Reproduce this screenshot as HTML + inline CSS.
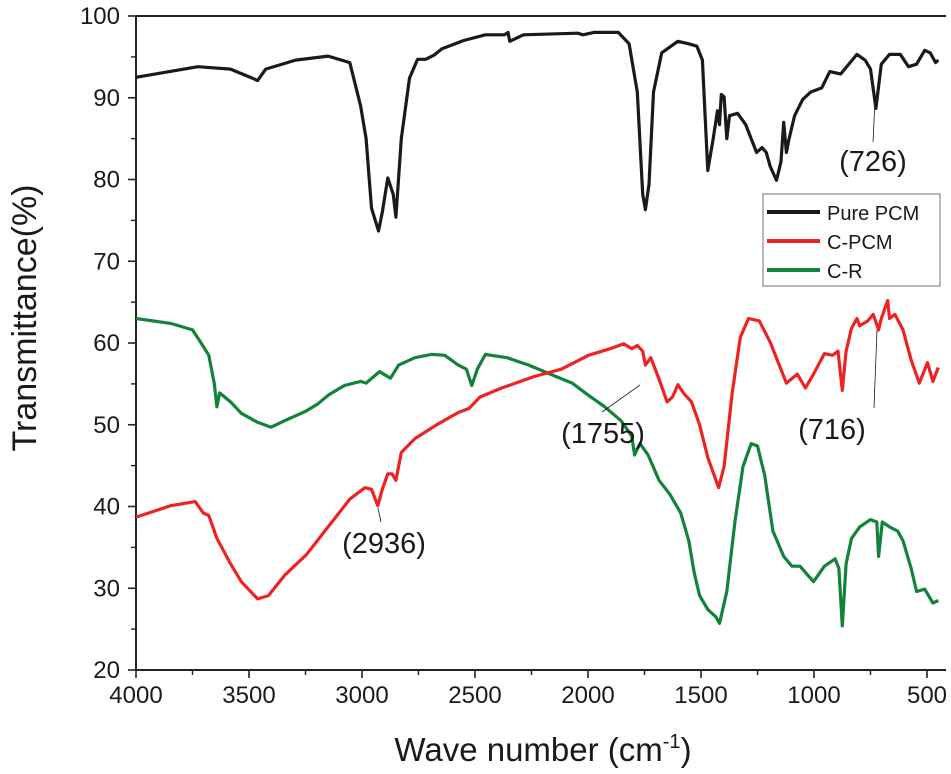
<!DOCTYPE html>
<html><head><meta charset="utf-8"><style>
body{margin:0;background:#fff;}
svg{display:block;font-family:"Liberation Sans",sans-serif;}
</style></head><body>
<svg id="chart" width="951" height="774">
<g id="axes"></g>
<g id="series"></g>
<g id="ann"></g>
<text x="0" y="0" transform="translate(36,318) rotate(-90)" text-anchor="middle" font-size="34" fill="#1a1a1a">Transmittance(%)</text>
<text x="543" y="761" text-anchor="middle" font-size="33" fill="#1a1a1a">Wave number (cm<tspan font-size="20" dy="-13">-1</tspan><tspan dy="13">)</tspan></text>
<g>
<rect x="763" y="194" width="177" height="92" fill="#fff" stroke="#888" stroke-width="1.2"/>
<g><line x1="767" y1="212" x2="820" y2="212" stroke="#1a1a1a" stroke-width="4"/><text x="827" y="220" font-size="20" fill="#1a1a1a">Pure PCM</text></g>
<g><line x1="767" y1="241" x2="820" y2="241" stroke="#ee2222" stroke-width="4"/><text x="827" y="249" font-size="20" fill="#1a1a1a">C-PCM</text></g>
<g><line x1="767" y1="270" x2="820" y2="270" stroke="#13823a" stroke-width="4"/><text x="827" y="278" font-size="20" fill="#1a1a1a">C-R</text></g>
</g>
</svg>
<script>
const xTicks=[4000,3500,3000,2500,2000,1500,1000,500];
const yTicks=[20,30,40,50,60,70,80,90,100];
const pureWn=[4000,3726,3582,3486,3462,3426,3294,3150,3054,3006,2982,2958,2927,2910,2886,2862,2850,2826,2790,2754,2718,2682,2646,2550,2454,2370,2354,2346,2286,2046,2022,1974,1866,1818,1782,1758,1746,1730,1710,1674,1602,1554,1518,1494,1482,1470,1446,1427,1418,1410,1398,1386,1374,1338,1302,1254,1230,1211,1194,1166,1146,1134,1122,1110,1086,1050,1014,966,930,882,810,774,750,726,702,666,618,582,546,510,486,462,450];
const pureT=[92.5,93.8,93.5,92.4,92.1,93.5,94.6,95.1,94.3,89.0,85.0,76.5,73.7,76.0,80.2,78.2,75.4,85.0,92.4,94.7,94.7,95.2,96.0,97.0,97.7,97.7,98.0,96.9,97.7,97.9,97.7,98.0,98.0,96.6,90.7,78.2,76.3,79.4,90.7,95.5,96.9,96.6,96.3,94.6,87.8,81.1,85.0,88.4,86.7,90.4,90.1,85.0,87.8,88.1,86.7,83.3,83.9,83.3,81.6,79.9,82.2,87.0,83.3,85.0,87.8,89.8,90.7,91.2,93.2,92.9,95.3,94.6,93.5,88.7,94.1,95.3,95.3,93.8,94.1,95.8,95.5,94.3,94.6];
const cpcmWn=[4000,3846,3738,3702,3678,3642,3582,3534,3462,3414,3342,3246,3150,3054,2987,2958,2930,2910,2886,2867,2850,2826,2766,2670,2574,2526,2478,2382,2238,2118,1998,1902,1842,1806,1782,1758,1746,1722,1686,1650,1626,1602,1578,1542,1506,1470,1422,1398,1362,1326,1290,1242,1194,1158,1122,1074,1038,1002,954,918,894,875,858,834,810,798,762,738,714,702,674,666,642,606,570,534,498,474,450];
const cpcmT=[38.7,40.1,40.6,39.2,38.9,36.1,33.0,30.8,28.7,29.1,31.6,34.1,37.5,40.9,42.3,42.1,40.1,42.1,44.0,44.0,43.2,46.6,48.3,50.0,51.5,52.0,53.4,54.5,55.9,56.8,58.5,59.3,59.9,59.3,59.7,59.0,57.3,58.2,55.6,52.8,53.4,54.9,53.9,52.8,50.0,46.0,42.3,44.9,53.9,60.7,63.0,62.7,60.1,57.6,55.1,56.2,54.5,56.2,58.7,58.5,59.0,54.2,59.0,61.8,63.0,62.1,62.7,63.5,61.6,63.0,65.2,63.0,63.5,61.6,57.9,55.1,57.6,55.3,57.0];
const crWn=[4000,3846,3750,3714,3678,3654,3642,3630,3582,3534,3462,3402,3342,3246,3198,3150,3078,3006,2982,2922,2874,2838,2766,2694,2634,2574,2538,2514,2490,2454,2358,2262,2142,2070,1998,1926,1854,1806,1794,1770,1734,1686,1638,1590,1554,1530,1506,1470,1434,1418,1386,1350,1314,1278,1250,1218,1182,1134,1098,1062,1002,954,906,890,875,858,834,798,750,722,714,698,666,630,606,570,546,510,474,450];
const crT=[63.0,62.4,61.6,60.1,58.5,55.1,52.2,53.9,52.8,51.4,50.3,49.7,50.5,51.7,52.5,53.6,54.8,55.3,55.1,56.5,55.7,57.3,58.2,58.6,58.5,57.3,56.8,54.8,56.8,58.6,58.2,57.3,55.9,55.1,53.6,52.2,50.5,48.6,46.3,47.7,46.3,43.2,41.5,39.2,35.8,31.9,29.1,27.4,26.5,25.7,29.6,38.1,44.9,47.7,47.4,43.8,37.0,33.9,32.7,32.7,30.8,32.7,33.6,32.4,25.4,33.0,36.1,37.5,38.4,38.1,33.9,38.1,37.5,37.0,35.8,32.4,29.6,29.9,28.2,28.5];

const X=w=>136+(4000-w)*(791/3500);
const Y=v=>16+(100-v)*(654/80);
const NS='http://www.w3.org/2000/svg';
function mk(tag,parent,attrs){const e=document.createElementNS(NS,tag);for(const k in attrs)e.setAttribute(k,attrs[k]);parent.appendChild(e);return e;}
const axes=document.getElementById('axes');
const pL=136,pR=946,pT=16,pB=670;
const ax1=mk('line',axes,{x1:pL,y1:pT,x2:pL,y2:pB,stroke:'#222','stroke-width':2});


const ax2=mk('line',axes,{x1:pL,y1:pB,x2:pR,y2:pB,stroke:'#222','stroke-width':2});


const ax3=mk('line',axes,{x1:pL,y1:pT,x2:pR,y2:pT,stroke:'#222','stroke-width':2});


xTicks.forEach(w=>{
  const t=mk('line',axes,{x1:X(w),y1:pB,x2:X(w),y2:pB+8,stroke:'#222','stroke-width':1.6});
  
  
  const m=mk('line',axes,{x1:X(w-250),y1:pB,x2:X(w-250),y2:pB+5,stroke:'#222','stroke-width':1.4});
  
  
  const l=mk('text',axes,{x:X(w),y:pB+33,'text-anchor':'middle','font-size':24,fill:'#1a1a1a'});
  l.textContent=w;
  
  
});
yTicks.forEach(v=>{
  const t=mk('line',axes,{x1:pL-8,y1:Y(v),x2:pL,y2:Y(v),stroke:'#222','stroke-width':1.6});
  
  
  if(v<100){const m=mk('line',axes,{x1:pL-5,y1:Y(v+5),x2:pL,y2:Y(v+5),stroke:'#222','stroke-width':1.4});
  
  }
  const l=mk('text',axes,{x:pL-16,y:Y(v)+8,'text-anchor':'end','font-size':24,fill:'#1a1a1a'});
  l.textContent=v;
  
  
});
const ser=document.getElementById('series');
function drawLine(wn,t,color,name){
  const d=wn.map((w,i)=>(i?'L':'M')+X(w).toFixed(1)+','+Y(t[i]).toFixed(1)).join('');
  const p=mk('path',ser,{d:d,fill:'none',stroke:color,'stroke-width':3.2,'stroke-linejoin':'round'});
  
  
}
drawLine(crWn,crT,'#13823a','series-c-r');
drawLine(cpcmWn,cpcmT,'#ee2222','series-c-pcm');
drawLine(pureWn,pureT,'#1a1a1a','series-pure-pcm');
const ann=document.getElementById('ann');
[['(726)',873,171,875,100,873,142],['(1755)',603,443,640,385,602,412],['(716)',832,439,877,330,874,408],['(2936)',384,553,378,508,381,522]].forEach(a=>{
  const ln=mk('line',ann,{x1:a[3],y1:a[4],x2:a[5],y2:a[6],stroke:'#1a1a1a','stroke-width':0.8});
  
  
  const tx=mk('text',ann,{x:a[1],y:a[2],'text-anchor':'middle','font-size':29,fill:'#1a1a1a'});
  tx.textContent=a[0];
  
  
});
</script>
</body></html>
